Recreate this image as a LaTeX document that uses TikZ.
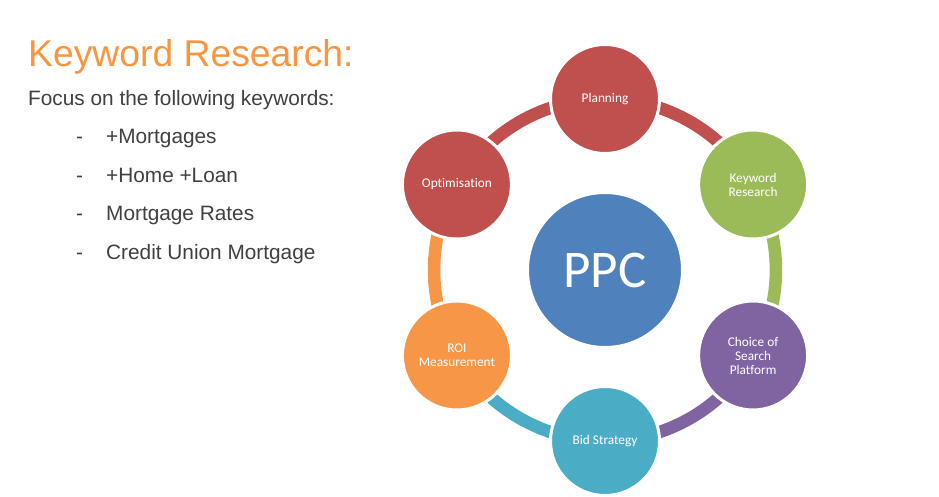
\documentclass[tikz,border=0pt]{standalone}
\usepackage{fontspec}
\setmainfont{Liberation Sans}
\newfontfamily\smartfont[Ligatures=NoCommon]{Carlito}
\usetikzlibrary{calc,backgrounds}
\definecolor{tangerine}{RGB}{248,150,64}
\definecolor{slate}{RGB}{64,64,64}
\definecolor{crimson}{RGB}{192,80,77}
\definecolor{lime}{RGB}{155,187,89}
\definecolor{grape}{RGB}{128,100,162}
\definecolor{teal}{RGB}{75,172,198}
\definecolor{carrot}{RGB}{247,150,70}
\definecolor{steel}{RGB}{79,129,189}
\tikzset{
  heading/.style={anchor=base west,inner sep=0pt,text=tangerine,
    font=\fontsize{37.3}{40}\selectfont},
  kwtext/.style={anchor=base west,inner sep=0pt,text=slate,
    font=\fontsize{20.8}{24}\selectfont},
  stage/.style={circle,fill=#1,draw=white,line width=3pt,minimum size=109pt,
    inner sep=0pt,text=white,align=center,font=\smartfont\fontsize{13.3}{14}\selectfont},
  stage/.default=crimson,
  hub/.style={circle,fill=steel,draw=white,line width=3pt,minimum size=155pt,
    inner sep=0pt,text=white,font=\smartfont\fontsize{53}{56}\selectfont},
  link/.style={line width=12.5pt,draw=#1},
  seg/.style={bend left=30,looseness=0.913},
}
\begin{document}
\begin{tikzpicture}[x=1pt,y=1pt]
  \useasboundingbox (0,0) rectangle (939,497);
  % heading and keyword list
  \node[heading] (title) at (28,430) {Keyword Research:};
  \node[kwtext] (focus) at (28,391) {Focus on the following keywords:};
  \foreach \w [count=\k from 0] in {+Mortgages,+Home +Loan,Mortgage Rates,Credit Union Mortgage}{
    \node[kwtext] (dash\k) at (76,353-38.4*\k) {-};
    \node[kwtext] (item\k) at (106,353-38.4*\k) {\w};
  }
  % cycle round the hub
  \coordinate (ring) at (605,227);
  \node[hub] (ppc) at (ring) {PPC};
  \node[stage=crimson] (plan) at ($(ring)+(90:171)$) {Planning};
  \node[stage=lime] (kw) at ($(ring)+(30:171)$) {Keyword\\Research};
  \node[stage=grape] (choice) at ($(ring)+(-30:171)$) {Choice of\\Search\\Platform};
  \node[stage=teal] (bid) at ($(ring)+(-90:171)$) {Bid Strategy};
  \node[stage=carrot] (roi) at ($(ring)+(-150:171)$) {ROI\\Measurement};
  \node[stage=crimson] (opt) at ($(ring)+(150:171)$) {Optimisation};
  \begin{pgfonlayer}{background}
    \draw[link=crimson] (plan.center) to[seg] (kw.center);
    \draw[link=lime] (kw.center) to[seg] (choice.center);
    \draw[link=grape] (choice.center) to[seg] (bid.center);
    \draw[link=teal] (bid.center) to[seg] (roi.center);
    \draw[link=carrot] (roi.center) to[seg] (opt.center);
    \draw[link=crimson] (opt.center) to[seg] (plan.center);
  \end{pgfonlayer}
\end{tikzpicture}
\end{document}
